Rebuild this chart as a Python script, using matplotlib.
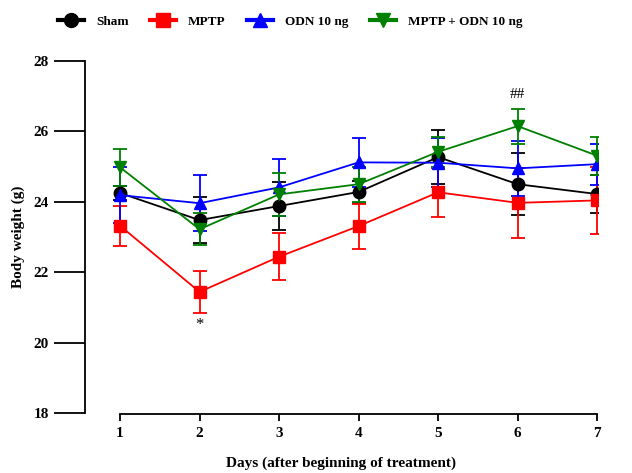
import matplotlib
matplotlib.use("Agg")
import matplotlib.pyplot as plt
from matplotlib.lines import Line2D

days = [1, 2, 3, 4, 5, 6, 7]
sham = [24.25, 23.48, 23.88, 24.28, 25.27, 24.50, 24.22]
sham_err = [0.20, 0.65, 0.67, 0.30, 0.77, 0.88, 0.54]
mptp = [23.32, 21.44, 22.44, 23.31, 24.27, 23.97, 24.04]
mptp_err = [0.57, 0.60, 0.67, 0.64, 0.70, 1.00, 0.95]
odn = [24.19, 23.96, 24.41, 25.12, 25.11, 24.95, 25.07]
odn_err = [0.80, 0.80, 0.80, 0.70, 0.70, 0.78, 0.58]
combo = [24.98, 23.22, 24.21, 24.50, 25.42, 26.15, 25.31]
combo_err = [0.52, 0.45, 0.60, 0.50, 0.43, 0.50, 0.54]
labels = ["Sham", "MPTP", "ODN 10 ng", "MPTP + ODN 10 ng"]
colors = ["black", "red", "blue", "green"]
markers = ["o", "s", "^", "v"]

plt.rcParams['font.family'] = ['Liberation Serif', 'DejaVu Serif']

fig = plt.figure(figsize=(6.32, 4.73), dpi=100)
ax = fig.add_axes([85/632, 1-413/473, (598-85)/632, (413-61)/473])

series = [sham, mptp, odn, combo]
errs = [sham_err, mptp_err, odn_err, combo_err]
handles = []
for y, e, c, m, lab in zip(series, errs, colors, markers, labels):
    ax.errorbar(days, y, yerr=e, color=c, marker=m, markersize=9, lw=1.3,
                capsize=5, capthick=1.3, elinewidth=1.3)
    handles.append(Line2D([0], [0], color=c, marker=m, markersize=10, lw=3))

ax.set_xlim(1 - 35/79.5, 7.01)
ax.set_ylim(18, 28)
ax.set_yticks([18, 20, 22, 24, 26, 28])
ax.set_xticks(days)
ax.spines['top'].set_visible(False)
ax.spines['right'].set_visible(False)
ax.spines['bottom'].set_bounds(1, 7)
ax.spines['bottom'].set_position(('outward', 1))
for s in ['left', 'bottom']:
    ax.spines[s].set_linewidth(1.3)
ax.tick_params(axis='y', direction='out', length=22, width=1.3, labelsize=11, pad=4)
ax.tick_params(axis='x', direction='out', length=5, width=1.3, labelsize=11, pad=4)
for t in ax.get_xticklabels() + ax.get_yticklabels():
    t.set_fontweight('bold')
ax.set_ylabel("Body weight (g)", fontsize=11, fontweight='bold', labelpad=6)
ax.set_xlabel("Days (after beginning of treatment)", fontsize=11, fontweight='bold', labelpad=12)

ax.text(2, 20.5, "*", ha='center', va='center', fontsize=12)
ax.text(6, 27.05, "##", ha='center', va='center', fontsize=11)

fig.legend(handles, labels, loc='upper left', bbox_to_anchor=(46/632, 1 - 4/473), ncol=4,
           frameon=False, handlelength=2.0, handletextpad=0.9, columnspacing=1.6,
           prop={'weight': 'bold', 'size': 9.5})

fig.savefig("out.png", dpi=100)
